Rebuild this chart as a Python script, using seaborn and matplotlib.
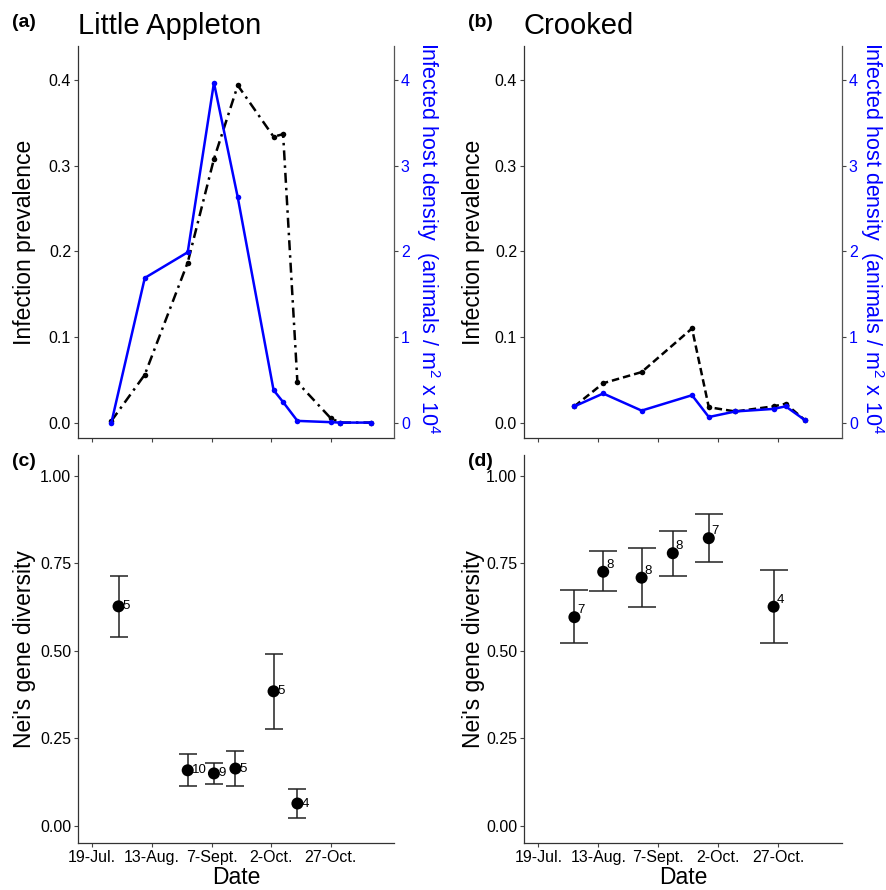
import pandas as pd
import seaborn as sns
import matplotlib.pyplot as plt

# ---- data ----
la_dates = ["2014-07-27", "2014-08-10", "2014-08-28", "2014-09-08", "2014-09-18", "2014-10-03",
            "2014-10-07", "2014-10-13", "2014-10-27", "2014-10-31", "2014-11-13"]
la_prevalence = [0.002, 0.056, 0.187, 0.308, 0.394, 0.334, 0.337, 0.047, 0.005, 0.0, 0.0]
la_density = [0.0, 1.69, 1.99, 3.97, 2.63, 0.38, 0.24, 0.02, 0.005, 0.0, 0.0]

cr_dates = ["2014-08-03", "2014-08-15", "2014-08-31", "2014-09-21", "2014-09-28",
            "2014-10-09", "2014-10-25", "2014-10-30", "2014-11-07"]
cr_prevalence = [0.019, 0.046, 0.059, 0.110, 0.018, 0.013, 0.019, 0.022, 0.003]
cr_density = [0.19, 0.34, 0.14, 0.32, 0.065, 0.13, 0.16, 0.19, 0.03]

la_gen_dates = ["2014-07-30", "2014-08-28", "2014-09-08", "2014-09-17", "2014-10-03", "2014-10-13"]
la_nei = [0.627, 0.158, 0.149, 0.163, 0.384, 0.063]
la_nei_lo = [0.538, 0.114, 0.119, 0.112, 0.277, 0.021]
la_nei_hi = [0.714, 0.204, 0.180, 0.212, 0.490, 0.104]
la_n = [5, 10, 9, 5, 5, 4]

cr_gen_dates = ["2014-08-03", "2014-08-15", "2014-08-31", "2014-09-13", "2014-09-28", "2014-10-25"]
cr_nei = [0.596, 0.726, 0.709, 0.779, 0.822, 0.626]
cr_nei_lo = [0.522, 0.670, 0.626, 0.714, 0.754, 0.522]
cr_nei_hi = [0.674, 0.784, 0.794, 0.844, 0.890, 0.731]
cr_n = [7, 8, 8, 8, 7, 4]

tick_dates = ["2014-07-19", "2014-08-13", "2014-09-07", "2014-10-02", "2014-10-27"]
tick_labels = ["19-Jul.", "13-Aug.", "7-Sept.", "2-Oct.", "27-Oct."]

# ---- style ----
sns.set_theme(style="ticks")
plt.rcParams['font.family'] = ['Liberation Sans', 'DejaVu Sans']
plt.rcParams['text.color'] = 'black'
plt.rcParams['axes.labelcolor'] = 'black'
plt.rcParams['mathtext.fontset'] = 'custom'
plt.rcParams['mathtext.rm'] = 'Liberation Sans'
plt.rcParams['mathtext.it'] = 'Liberation Sans'
plt.rcParams['mathtext.bf'] = 'Liberation Sans:bold'

W, H = 887, 890
TICK_FS = 11.5
fig = plt.figure(figsize=(W / 100, H / 100), dpi=100)


def box(x0, y0, x1, y1):
    return [x0 / W, 1 - y1 / H, (x1 - x0) / W, (y1 - y0) / H]


x_lo = pd.Timestamp("2014-07-19") - pd.Timedelta(days=6)
x_hi = pd.Timestamp("2014-07-19") + pd.Timedelta(days=126.5)
ticks = pd.to_datetime(tick_dates)


def style_axis(ax, show_labels):
    ax.set_xlim(x_lo, x_hi)
    ax.set_xticks(ticks)
    if show_labels:
        ax.set_xticklabels(tick_labels)
    else:
        ax.set_xticklabels([])
    ax.tick_params(axis='both', labelsize=TICK_FS, length=3, width=0.8, color='#444444',
                   labelcolor='black', pad=2)
    for s in ['left', 'bottom']:
        ax.spines[s].set_color('#333333')
        ax.spines[s].set_linewidth(0.9)
    sns.despine(ax=ax)


def y_label(ax, text, center_px, left_px, width_px):
    ax.set_ylabel(text, fontsize=16.5, rotation=90, ha='center', va='center',
                  rotation_mode='default')
    ax.yaxis.set_label_coords((center_px - left_px) / width_px, 0.5)


def top_panel(rect, dates, prev, dens, dash, letter, title, letter_x, ylab_px, rlab_px):
    ax = fig.add_axes(box(*rect))
    d = pd.DataFrame({"date": pd.to_datetime(dates), "prev": prev, "dens": dens})
    sns.lineplot(data=d, x="date", y="prev", ax=ax, color='black', lw=1.8,
                 linestyle=dash, marker='o', markersize=4, markeredgewidth=0)
    ax.set_ylim(-0.018, 0.44)
    ax.set_yticks([0.0, 0.1, 0.2, 0.3, 0.4])
    ax.set_yticklabels(["0.0", "0.1", "0.2", "0.3", "0.4"])
    style_axis(ax, False)
    ax.set_xlabel("")
    width = rect[2] - rect[0]
    y_label(ax, "Infection prevalence", ylab_px, rect[0], width)

    ax2 = ax.twinx()
    sns.lineplot(data=d, x="date", y="dens", ax=ax2, color='blue', lw=1.8,
                 marker='o', markersize=4, markeredgewidth=0)
    ax2.set_ylim(-0.18, 4.4)
    ax2.set_yticks([0, 1, 2, 3, 4])
    ax2.tick_params(axis='y', labelsize=TICK_FS, length=3, width=0.8, color='#444444',
                    labelcolor='blue', pad=2)
    for s in ['top', 'left', 'bottom']:
        ax2.spines[s].set_visible(False)
    ax2.spines['right'].set_color('#555555')
    ax2.spines['right'].set_linewidth(0.9)
    ax2.set_xlim(x_lo, x_hi)
    ax2.set_ylabel("Infected host density  (animals / m$^2$ x 10$^4$", fontsize=15.5,
                   color='blue', rotation=270, ha='center', va='center',
                   rotation_mode='default')
    ax2.yaxis.set_label_coords((rlab_px - rect[0]) / width, 0.51)

    fig.text(letter_x / W, 1 - 27 / H, letter, fontsize=14, fontweight='bold', va='baseline')
    fig.text(rect[0] / W, 1 - 34 / H, title, fontsize=21, va='baseline')


def gene_panel(rect, dates, nei, lo, hi, n, cap, offset, letter, letter_x, ylab_px):
    ax = fig.add_axes(box(*rect))
    d = pd.DataFrame({"date": pd.to_datetime(dates), "nei": nei, "lo": lo, "hi": hi, "n": n})
    ax.errorbar(d["date"], d["nei"], yerr=[d["nei"] - d["lo"], d["hi"] - d["nei"]],
                fmt='none', ecolor='#222222', elinewidth=1.1, capsize=cap, capthick=1.1)
    sns.scatterplot(data=d, x="date", y="nei", ax=ax, color='black', s=75,
                    edgecolor='none', zorder=3)
    for _, r in d.iterrows():
        ax.annotate(str(r["n"]), (r["date"], r["nei"]), xytext=offset,
                    textcoords='offset points', ha='left', va='center', fontsize=9.5)
    ax.set_ylim(-0.05, 1.06)
    ax.set_yticks([0.0, 0.25, 0.5, 0.75, 1.0])
    ax.set_yticklabels(["0.00", "0.25", "0.50", "0.75", "1.00"])
    style_axis(ax, True)
    ax.set_xlabel("Date", fontsize=16.5)
    ax.xaxis.set_label_coords(0.5, -0.058)
    y_label(ax, "Nei's gene diversity", ylab_px, rect[0], rect[2] - rect[0])
    fig.text(letter_x / W, 1 - 466 / H, letter, fontsize=14, fontweight='bold', va='baseline')


top_panel((78, 46, 394, 438), la_dates, la_prevalence, la_density, (0, (4, 2, 1, 2)),
          "(a)", "Little Appleton", 12, 25, 428)
top_panel((524, 46, 842, 438), cr_dates, cr_prevalence, cr_density, (0, (3, 1.6)),
          "(b)", "Crooked", 468, 474, 872)
gene_panel((78, 455, 394, 843), la_gen_dates, la_nei, la_nei_lo, la_nei_hi, la_n,
           6.5, (3, 0), "(c)", 12, 25)
gene_panel((524, 455, 842, 843), cr_gen_dates, cr_nei, cr_nei_lo, cr_nei_hi, cr_n,
           10, (2, 5), "(d)", 468, 474)

fig.savefig("out.png", dpi=100)
